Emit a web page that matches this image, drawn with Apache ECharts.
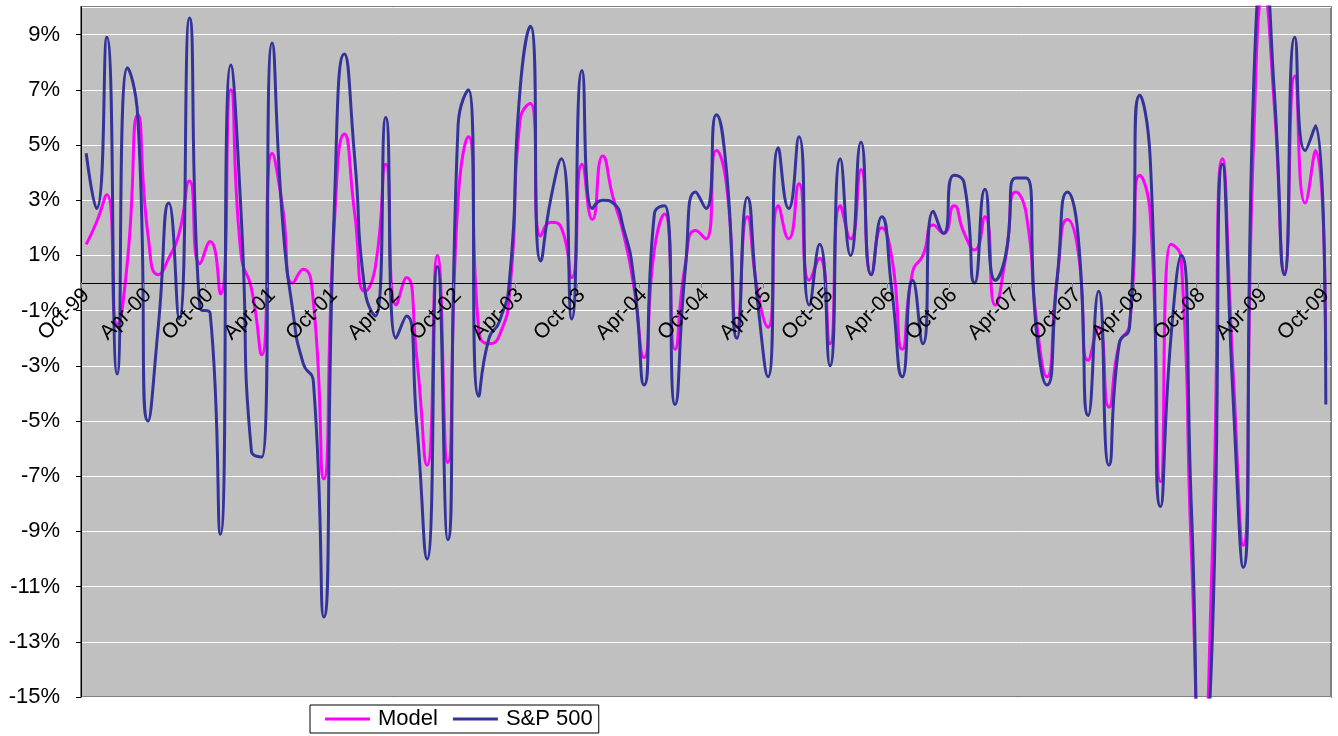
<!DOCTYPE html>
<html>
<head>
<meta charset="utf-8">
<script src="https://cdn.jsdelivr.net/npm/echarts@6/dist/echarts.min.js"></script>
<style>
html,body{margin:0;padding:0;background:#fff;}
#c{width:1338px;height:736px;}
</style>
</head>
<body>
<div id="c"></div>
<script>
const categories = [
 'Oct-99','Nov-99','Dec-99',
 'Jan-00','Feb-00','Mar-00','Apr-00','May-00','Jun-00','Jul-00','Aug-00','Sep-00','Oct-00','Nov-00','Dec-00',
 'Jan-01','Feb-01','Mar-01','Apr-01','May-01','Jun-01','Jul-01','Aug-01','Sep-01','Oct-01','Nov-01','Dec-01',
 'Jan-02','Feb-02','Mar-02','Apr-02','May-02','Jun-02','Jul-02','Aug-02','Sep-02','Oct-02','Nov-02','Dec-02',
 'Jan-03','Feb-03','Mar-03','Apr-03','May-03','Jun-03','Jul-03','Aug-03','Sep-03','Oct-03','Nov-03','Dec-03',
 'Jan-04','Feb-04','Mar-04','Apr-04','May-04','Jun-04','Jul-04','Aug-04','Sep-04','Oct-04','Nov-04','Dec-04',
 'Jan-05','Feb-05','Mar-05','Apr-05','May-05','Jun-05','Jul-05','Aug-05','Sep-05','Oct-05','Nov-05','Dec-05',
 'Jan-06','Feb-06','Mar-06','Apr-06','May-06','Jun-06','Jul-06','Aug-06','Sep-06','Oct-06','Nov-06','Dec-06',
 'Jan-07','Feb-07','Mar-07','Apr-07','May-07','Jun-07','Jul-07','Aug-07','Sep-07','Oct-07','Nov-07','Dec-07',
 'Jan-08','Feb-08','Mar-08','Apr-08','May-08','Jun-08','Jul-08','Aug-08','Sep-08','Oct-08','Nov-08','Dec-08',
 'Jan-09','Feb-09','Mar-09','Apr-09','May-09','Jun-09','Jul-09','Aug-09','Sep-09','Oct-09'
];

const modelValues = [
 1.4, 2.2, 3.2, -1.5, 0.8, 6.1, 1.7, 0.3, 0.9, 1.8,
 3.7, 0.7, 1.5, -0.4, 7.0, 1.0, -0.2, -2.6, 4.7, 2.8,
 0.0, 0.5, -0.7, -7.1, 2.0, 5.4, 2.5, -0.3, 0.6, 4.3,
 -0.8, 0.2, -2.7, -6.6, 1.0, -6.5, 3.0, 5.3, -1.7, -2.2,
 -1.9, -0.3, 5.9, 6.5, 1.7, 2.2, 2.0, 0.2, 4.3, 2.3,
 4.6, 3.1, 1.8, -0.1, -2.7, 1.2, 2.5, -2.4, 0.7, 1.9,
 1.6, 4.8, 3.5, -1.6, 2.4, -0.3, -1.6, 2.8, 1.6, 3.6,
 0.1, 0.9, -2.2, 2.8, 1.6, 4.1, 0.3, 2.0, 0.9, -2.4,
 0.4, 1.0, 2.1, 1.8, 2.8, 1.8, 1.2, 2.4, -0.8, 0.9,
 3.3, 2.5, -1.4, -3.4, 0.2, 2.3, 1.2, -2.8, -1.6, -4.5,
 -2.2, -1.5, 3.9, 2.5, -7.2, 1.4, 0.9, -9.9, -18.0, -10.0,
 4.5, -3.0, -9.5, 5.0, 10.5, 6.5, 0.4, 7.5, 2.9, 4.8, -2.8
];

const sp500Values = [
 4.7, 2.7, 8.9, -3.3, 7.8, 6.0, -5.0, -1.5, 2.9, -1.3,
 9.6, -0.9, -1.1, -9.1, 7.9, 2.5, -6.1, -6.3, 8.7, 2.3,
 -1.0, -2.9, -3.6, -12.1, 2.5, 8.3, 4.5, -0.3, -1.2, 6.0,
 -2.0, -1.2, -5.1, -10.0, 0.6, -9.3, 5.7, 7.0, -4.1, -2.0,
 -1.4, 0.2, 7.0, 9.3, 0.8, 3.1, 4.5, -1.3, 7.7, 2.7,
 3.0, 2.9, 2.0, 0.2, -3.7, 2.5, 2.8, -4.4, 0.5, 3.3,
 2.7, 6.1, 4.0, -2.0, 3.1, -0.7, -3.4, 4.9, 2.7, 5.3,
 -0.8, 1.4, -3.0, 4.5, 1.0, 5.1, 0.3, 2.4, -0.3, -3.4,
 0.1, -2.2, 2.6, 1.8, 3.9, 3.6, 0.0, 3.4, 0.1, 1.0,
 3.8, 3.8, -1.8, -3.7, 0.2, 3.3, 1.8, -4.8, -0.3, -6.6,
 -2.2, -1.6, 6.8, 4.5, -8.1, -2.0, 1.0, -8.3, -18.0, -13.0,
 4.3, -4.0, -10.3, 7.0, 11.5, 7.0, 0.3, 8.9, 4.8, 5.7, -4.4
];

const seriesNames = ['Model', 'S&P 500'];

const FONT = 'Liberation Sans, Arial, sans-serif';
const Y_MIN = -15, Y_MAX = 10;
const GRID_TOP = 7, GRID_BOTTOM = 39, H = 736;
const plotH = H - GRID_TOP - GRID_BOTTOM;
// move the category axis (line, ticks, labels) up to the zero value, as in the original
const zeroOffset = -plotH * (0 - Y_MIN) / (Y_MAX - Y_MIN);

const chart = echarts.init(document.getElementById('c'), null, {renderer: 'canvas'});
chart.setOption({
  animation: false,
  backgroundColor: '#ffffff',
  grid: {
    left: 81, right: 7, top: GRID_TOP, bottom: GRID_BOTTOM,
    show: true, backgroundColor: '#C0C0C0', borderColor: '#808080', borderWidth: 2
  },
  legend: {
    left: 310, top: 705,
    backgroundColor: '#ffffff', borderColor: '#000000', borderWidth: 1,
    padding: [3, 6, 3, 15],
    itemWidth: 45, itemHeight: 3, itemGap: 15,
    icon: 'rect',
    textStyle: {fontFamily: FONT, fontSize: 22, color: '#000', padding: [0, 0, 0, 3]},
    data: seriesNames
  },
  xAxis: {
    type: 'category',
    data: categories,
    boundaryGap: true,
    position: 'bottom',
    offset: zeroOffset,
    z: 5,
    axisLine: {onZero: false, lineStyle: {color: '#000', width: 1}},
    axisTick: {show: true, interval: 5, length: 5, lineStyle: {color: '#808080'}},
    axisLabel: {interval: 5, rotate: 45, margin: 9, fontFamily: FONT, fontSize: 21, color: '#000'},
    splitLine: {show: false}
  },
  yAxis: {
    type: 'value',
    min: Y_MIN, max: Y_MAX, interval: 2,
    axisLine: {show: true, lineStyle: {color: '#000', width: 1}},
    axisTick: {show: true, length: 5, lineStyle: {color: '#000'}},
    axisLabel: {showMaxLabel: false, margin: 21, fontFamily: FONT, fontSize: 22, color: '#000',
      formatter: v => v + '%'},
    splitLine: {show: true, lineStyle: {color: '#ffffff', width: 1}}
  },
  series: [
    {
      name: seriesNames[0], type: 'line', data: modelValues,
      smooth: 0.6, symbol: 'none', color: '#FF00FF',
      lineStyle: {color: '#FF00FF', width: 3}
    },
    {
      name: seriesNames[1], type: 'line', data: sp500Values,
      smooth: 0.6, symbol: 'none', color: '#333399',
      lineStyle: {color: '#333399', width: 3}
    }
  ]
});
</script>
</body>
</html>
